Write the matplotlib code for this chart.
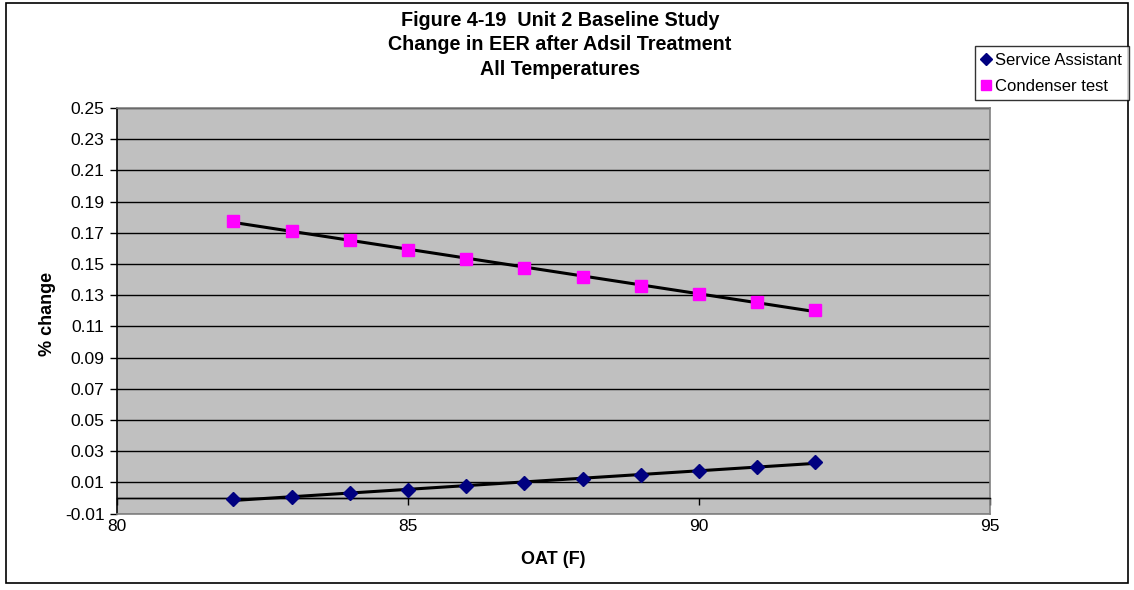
import numpy as np
import matplotlib
matplotlib.use("Agg")
import matplotlib.pyplot as plt
from matplotlib.patches import Rectangle

plt.rcParams['font.family'] = ['Liberation Sans', 'DejaVu Sans']

oat = [82, 83, 84, 85, 86, 87, 88, 89, 90, 91, 92]
service_assistant = [-0.0006, 0.0006, 0.0032, 0.0051, 0.0077, 0.0096, 0.0122, 0.0147, 0.0173, 0.0199, 0.0231]
condenser_test = [0.1776, 0.1712, 0.1654, 0.1590, 0.1532, 0.1474, 0.1417, 0.1359, 0.1308, 0.1256, 0.1205]
yticks = [-0.01, 0.01, 0.03, 0.05, 0.07, 0.09, 0.11, 0.13, 0.15, 0.17, 0.19, 0.21, 0.23, 0.25]
xticks = [80, 85, 90, 95]
title = "Figure 4-19  Unit 2 Baseline Study\nChange in EER after Adsil Treatment\nAll Temperatures"

W, H = 1134, 590
fig = plt.figure(figsize=(W / 100, H / 100), dpi=100)
ax = fig.add_axes([117 / W, 1 - 513.5 / H, (990 - 117) / W, (513.5 - 108) / H])
ax.set_facecolor('#C0C0C0')
ax.set_xlim(80, 95)
ax.set_ylim(-0.01, 0.25)

for y in yticks:
    ax.axhline(y, color='black', lw=1.0, zorder=1)
ax.axhline(0, color='black', lw=1.0, zorder=1)

x = np.array(oat, dtype=float)
for vals in (service_assistant, condenser_test):
    c = np.polyfit(x, vals, 1)
    ax.plot(x, np.polyval(c, x), color='black', lw=2.2, zorder=3, solid_capstyle='butt')

ax.plot(oat, service_assistant, linestyle='none', marker='D', ms=7, color='#000080',
        mec='#000080', zorder=4, label='Service Assistant')
ax.plot(oat, condenser_test, linestyle='none', marker='s', ms=8, color='#FF00FF',
        mec='#FF00FF', zorder=4, label='Condenser test')

ax.set_yticks(yticks)
ax.set_yticklabels([f"{v:.2f}" for v in yticks])
ax.set_xticks(xticks)
ax.set_xticklabels([str(v) for v in xticks])

for s in ('top', 'right'):
    ax.spines[s].set_color('#808080')
    ax.spines[s].set_linewidth(1.2)
ax.spines['left'].set_color('black')
ax.spines['left'].set_linewidth(1.2)
ax.spines['bottom'].set_position(('data', 0))
ax.spines['bottom'].set_color('black')
ax.spines['bottom'].set_linewidth(1.0)
# gray bottom border of plot area
ax.plot([0, 1], [0, 0], transform=ax.transAxes, color='#808080', lw=1.2, clip_on=False, zorder=5)

ax.tick_params(axis='y', direction='out', length=5, width=1, labelsize=12.5, pad=4)
ax.tick_params(axis='x', direction='out', length=5, width=1, labelsize=12.5, pad=10.5)

ax.set_ylabel('% change', fontsize=13, fontweight='bold')
ax.set_xlabel('OAT (F)', fontsize=13, fontweight='bold')
ax.xaxis.set_label_coords((553 - 117) / (990 - 117), -(559 - 513.5) / (513.5 - 108))
ax.xaxis.label.set_va('center')
ax.yaxis.set_label_coords(-(117 - 47) / (990 - 117), (513.5 - 314) / (513.5 - 108))
ax.yaxis.label.set_va('center')

fig.text(560 / W, 1 - 45 / H, title, ha='center', va='center', fontsize=14.2,
         fontweight='bold', linespacing=1.36)

leg = fig.legend(loc='upper left', bbox_to_anchor=(975 / W, 1 - 46 / H), fontsize=12,
                 frameon=True, fancybox=False, edgecolor='black', handlelength=0.55,
                 handletextpad=0.25, borderpad=0.4, labelspacing=0.65, borderaxespad=0,
                 markerscale=0.85)
leg.get_frame().set_linewidth(1.0)

fig.patches.append(Rectangle((6 / W, 1 - 583 / H), (1128 - 6) / W, (583 - 3) / H,
                             transform=fig.transFigure, fill=False, edgecolor='black', lw=1.2))

fig.savefig('out.png', dpi=100)
